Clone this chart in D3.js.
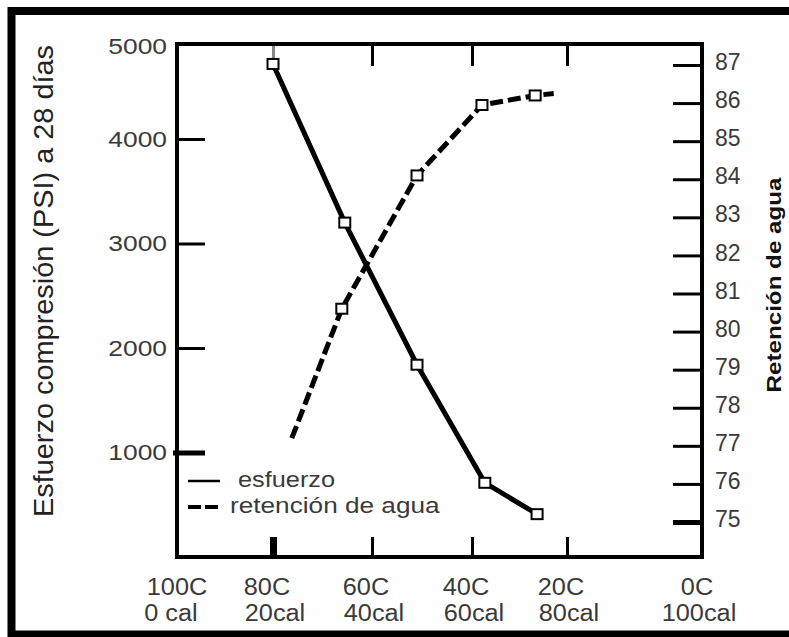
<!DOCTYPE html>
<html>
<head>
<meta charset="utf-8">
<script src="https://cdn.jsdelivr.net/npm/d3@7"></script>
<style>
  body { margin: 0; background: #fff; }
  text { font-family: "Liberation Sans", Arial, sans-serif; }
</style>
</head>
<body>
<svg id="chart" width="789" height="637"></svg>
<script>
// Data
const esfCal = [20, 34.5, 49, 62.7, 73.7];
const esfPsi = [4790, 3200, 1840, 710, 410];

const retCal = [23.8, 33.9, 49, 62.1, 73.3, 77.2];
const retPct = [77.2, 80.6, 84.1, 85.95, 86.2, 86.25];

const psiTicks = [1000, 2000, 3000, 4000, 5000];
const retTicks = [75, 76, 77, 78, 79, 80, 81, 82, 83, 84, 85, 86, 87];
const calTicks = [0, 20, 40, 60, 80, 100];
const tempLabels = ['100C', '80C', '60C', '40C', '20C', '0C'];
const calLabels = ['0 cal', '20cal', '40cal', '60cal', '80cal', '100cal'];

const svg = d3.select('#chart');

const plotL = 177, plotR = 702, plotT = 44, plotB = 557;

// hand-drawn axis spacing is uneven, so the scales are piecewise
const x = d3.scaleLinear().domain(calTicks).range([177, 273, 372, 472, 567, 697]);
const yPsi = d3.scaleLinear().domain([0, 4000, 5000]).range([plotB, 139, plotT]);
const yRet = d3.scaleLinear().domain([75, 87]).range([522, 65]);

// widen glyphs a bit like the scanned original
const stretch = (sel, k) =>
  sel.each(function () {
    const w = this.getComputedTextLength();
    d3.select(this).attr('textLength', w * k).attr('lengthAdjust', 'spacingAndGlyphs');
  });

// outer frame
svg.append('rect')
  .attr('x', 11.5).attr('y', 11)
  .attr('width', 820).attr('height', 623.5)
  .attr('fill', 'none').attr('stroke', '#000').attr('stroke-width', 8);

// Left axis
const gLeft = svg.append('g')
  .attr('transform', `translate(${plotL},0)`)
  .call(d3.axisLeft(yPsi).tickValues(psiTicks).tickFormat(d3.format('d')).tickSize(-28).tickPadding(10));
gLeft.select('.domain').remove();
gLeft.selectAll('line').attr('stroke', '#000').attr('stroke-width', 3);
gLeft.selectAll('.tick').filter(d => d === 1000).select('line')
  .attr('x1', -4).attr('stroke-width', 5);
gLeft.selectAll('.tick').filter(d => d === 5000).select('text').attr('dy', '0.45em');
gLeft.selectAll('text')
  .attr('font-size', 22).attr('fill', '#3a3a3a').attr('font-family', '"Liberation Sans", Arial, sans-serif')
  .call(stretch, 1.2);

// Right axis
const gRight = svg.append('g')
  .attr('transform', `translate(${plotR},0)`)
  .call(d3.axisRight(yRet).tickValues(retTicks).tickSize(-29).tickPadding(13));
gRight.select('.domain').remove();
gRight.selectAll('line').attr('stroke', '#000').attr('stroke-width', 3);
gRight.selectAll('.tick').filter(d => d === 75).select('line').attr('stroke-width', 5);
gRight.selectAll('text')
  .attr('font-size', 23).attr('fill', '#3a3a3a').attr('dy', '0.2em')
  .attr('font-family', '"Liberation Sans", Arial, sans-serif');

// Bottom and top ticks
const gBottom = svg.append('g')
  .attr('transform', `translate(0,${plotB})`)
  .call(d3.axisBottom(x).tickValues([20, 40, 60, 80]).tickSize(-20).tickFormat(''));
gBottom.select('.domain').remove();
gBottom.selectAll('line').attr('stroke', '#000').attr('stroke-width', 3);
gBottom.selectAll('.tick').filter(d => d === 20).select('line').attr('stroke-width', 7);

const gTop = svg.append('g')
  .attr('transform', `translate(0,${plotT})`)
  .call(d3.axisTop(x).tickValues([20, 40, 60, 80]).tickSize(-22).tickFormat(''));
gTop.select('.domain').remove();
gTop.selectAll('line').attr('stroke', '#000').attr('stroke-width', 3);
gTop.selectAll('.tick').filter(d => d === 20).select('line').attr('stroke', '#888');

// plot box
svg.append('rect')
  .attr('x', plotL).attr('y', plotT)
  .attr('width', plotR - plotL).attr('height', plotB - plotT)
  .attr('fill', 'none').attr('stroke', '#000').attr('stroke-width', 4);

// x labels (two lines)
const xl = svg.append('g').attr('font-size', 23).attr('fill', '#3a3a3a').attr('text-anchor', 'middle');
xl.selectAll('text.temp')
  .data(calTicks)
  .enter()
  .append('text')
  .attr('class', 'temp')
  .attr('x', (d, i) => x(d) - (i > 0 && i < 5 ? 6 : 0))
  .attr('y', 595)
  .text((d, i) => tempLabels[i])
  .call(stretch, 1.1);
xl.selectAll('text.cal')
  .data(calTicks)
  .enter()
  .append('text')
  .attr('class', 'cal')
  .attr('x', (d, i) => x(d) + (i === 0 ? -6 : 2))
  .attr('y', 621)
  .text((d, i) => calLabels[i])
  .call(stretch, 1.1);

// axis titles
svg.append('text')
  .attr('transform', 'translate(53,281) rotate(-90)')
  .attr('text-anchor', 'middle')
  .attr('font-size', 27)
  .attr('fill', '#222')
  .attr('textLength', 472)
  .attr('lengthAdjust', 'spacingAndGlyphs')
  .text('Esfuerzo compresión (PSI) a 28 días');

svg.append('text')
  .attr('transform', 'translate(781,285) rotate(-90)')
  .attr('text-anchor', 'middle')
  .attr('font-size', 20)
  .attr('font-weight', 'bold')
  .attr('fill', '#111')
  .attr('textLength', 215)
  .attr('lengthAdjust', 'spacingAndGlyphs')
  .text('Retención de agua');

// Lines
const esfData = esfCal.map((c, i) => ({ cal: c, v: esfPsi[i] }));
const retData = retCal.map((c, i) => ({ cal: c, v: retPct[i] }));

svg.append('path')
  .datum(esfData)
  .attr('fill', 'none')
  .attr('stroke', '#000')
  .attr('stroke-width', 5)
  .attr('d', d3.line().x(d => x(d.cal)).y(d => yPsi(d.v)));

svg.append('path')
  .datum(retData)
  .attr('fill', 'none')
  .attr('stroke', '#000')
  .attr('stroke-width', 5)
  .attr('stroke-dasharray', '13,5')
  .attr('d', d3.line().x(d => x(d.cal)).y(d => yRet(d.v)));

// Markers
svg.selectAll('rect.esf')
  .data(esfData)
  .enter()
  .append('rect')
  .attr('class', 'esf')
  .attr('x', d => x(d.cal) - 5.5)
  .attr('y', d => yPsi(d.v) - 5)
  .attr('width', 11)
  .attr('height', 10)
  .attr('fill', '#fff')
  .attr('stroke', '#000')
  .attr('stroke-width', 2);

svg.selectAll('rect.ret')
  .data(retData.slice(1, -1))
  .enter()
  .append('rect')
  .attr('class', 'ret')
  .attr('x', d => x(d.cal) - 5.5)
  .attr('y', d => yRet(d.v) - 5)
  .attr('width', 11)
  .attr('height', 10)
  .attr('fill', '#fff')
  .attr('stroke', '#000')
  .attr('stroke-width', 2);

// Legend
const legend = svg.append('g').attr('font-size', 22).attr('fill', '#3a3a3a');
legend.append('line')
  .attr('x1', 188).attr('x2', 220).attr('y1', 481).attr('y2', 481)
  .attr('stroke', '#000').attr('stroke-width', 2.5);
legend.append('text')
  .attr('x', 238).attr('y', 487)
  .text('esfuerzo')
  .call(stretch, 1.15);
legend.append('line')
  .attr('x1', 188).attr('x2', 218).attr('y1', 507).attr('y2', 507)
  .attr('stroke', '#000').attr('stroke-width', 4)
  .attr('stroke-dasharray', '13,4');
legend.append('text')
  .attr('x', 230).attr('y', 513)
  .text('retención de agua')
  .call(stretch, 1.19);
</script>
</body>
</html>
